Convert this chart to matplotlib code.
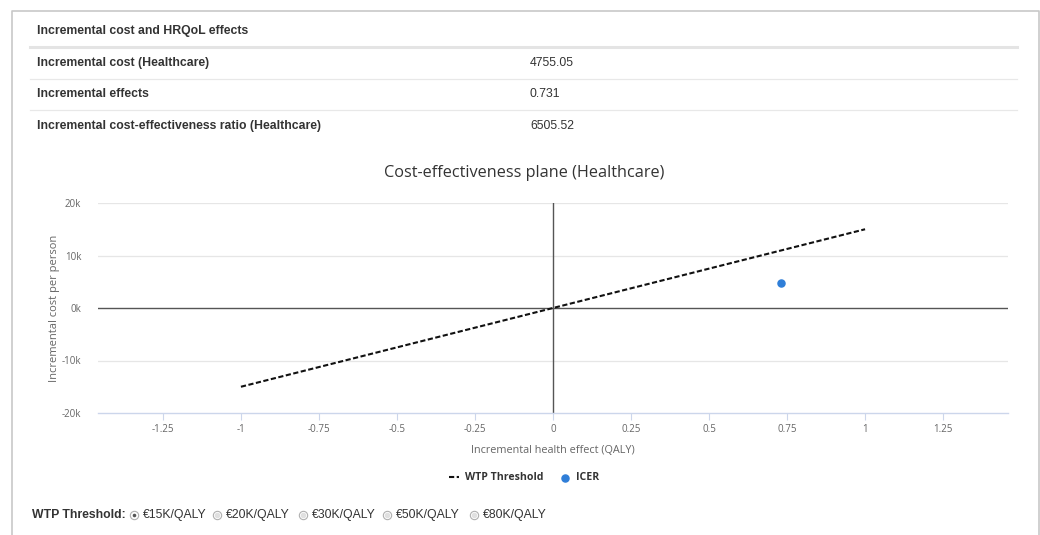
import matplotlib
matplotlib.use("Agg")
import matplotlib.pyplot as plt
from matplotlib.lines import Line2D

# data
table_title = "Incremental cost and HRQoL effects"
row_labels = ["Incremental cost (Healthcare)", "Incremental effects",
              "Incremental cost-effectiveness ratio (Healthcare)"]
row_values = ["4755.05", "0.731", "6505.52"]

wtp_x = [-1, 1]
wtp_y = [-15000, 15000]
icer_x = [0.731]
icer_y = [4755.05]

xticks = [-1.25, -1, -0.75, -0.5, -0.25, 0, 0.25, 0.5, 0.75, 1, 1.25]
xtick_labels = ["-1.25", "-1", "-0.75", "-0.5", "-0.25", "0",
                "0.25", "0.5", "0.75", "1", "1.25"]
yticks = [-20000, -10000, 0, 10000, 20000]
ytick_labels = ["-20k", "-10k", "0k", "10k", "20k"]

wtp_options = ["\u20ac15K/QALY", "\u20ac20K/QALY", "\u20ac30K/QALY", "\u20ac50K/QALY", "\u20ac80K/QALY"]

W, H = 1040, 535
fig = plt.figure(figsize=(W / 100, H / 100), dpi=100)


def fx(px):
    return px / W


def fy(py):
    return 1 - py / H


def hline(x0, x1, y, color, lw):
    fig.add_artist(Line2D([fx(x0), fx(x1)], [fy(y), fy(y)], color=color, lw=lw,
                          transform=fig.transFigure))


# outer border of the panel
fig.add_artist(Line2D([fx(12), fx(12), fx(1039), fx(1039)], [fy(535), fy(11), fy(11), fy(535)],
                      color="#c8c8c8", lw=1.2, transform=fig.transFigure))

# summary table
tfont = dict(family="Liberation Sans", fontsize=8.8, color="#333333")
fig.text(fx(37), fy(31), table_title, weight="bold", va="center", **tfont)
hline(30, 1017, 47, "#e4e4e4", 2.2)
row_y = [63, 94, 126]
for i, (lab, val) in enumerate(zip(row_labels, row_values)):
    fig.text(fx(37), fy(row_y[i]), lab, weight="bold", va="center", **tfont)
    fig.text(fx(530), fy(row_y[i]), val, va="center", **tfont)
    if i < 2:
        hline(30, 1017, row_y[i] + 16, "#e8e8e8", 0.9)

# chart
ax = fig.add_axes([fx(98), fy(413), fx(1008) - fx(98), fy(203) - fy(413)])
ax.set_xlim(-1.458, 1.458)
ax.set_ylim(-20000, 20000)

for y in yticks:
    if y not in (0, -20000):
        ax.axhline(y, color="#e6e6e6", lw=0.9, zorder=0)
ax.axhline(0, color="#555555", lw=1.0, zorder=1)
ax.axvline(0, color="#555555", lw=1.0, zorder=1)

ax.plot(wtp_x, wtp_y, color="#111111", lw=1.5, ls=(0, (2.5, 1.2)), zorder=3,
        label="WTP Threshold")
ax.scatter(icer_x, icer_y, s=26, color="#2f7ed8", zorder=4, label="ICER")

for s in ["top", "right", "left"]:
    ax.spines[s].set_visible(False)
ax.spines["bottom"].set_color("#ccd6eb")
ax.spines["bottom"].set_linewidth(1.0)

ax.set_xticks(xticks)
ax.set_xticklabels(xtick_labels)
ax.set_yticks(yticks)
ax.set_yticklabels(ytick_labels)
ax.tick_params(axis="x", length=5, color="#ccd6eb", labelsize=7, labelcolor="#666666", pad=3)
ax.tick_params(axis="y", length=0, labelsize=7, labelcolor="#666666", pad=12)
for lab in ax.get_xticklabels() + ax.get_yticklabels():
    lab.set_family("Open Sans")

ax.set_xlabel("Incremental health effect (QALY)", fontsize=7.8, color="#666666",
              family="Open Sans", labelpad=7)
ax.set_ylabel("Incremental cost per person", fontsize=8.0, color="#666666",
              family="Open Sans", labelpad=1)
fig.text(fx(524), fy(173), "Cost-effectiveness plane (Healthcare)", fontsize=11.7,
         color="#333333", family="Open Sans", ha="center", va="center")

leg = fig.legend(*ax.get_legend_handles_labels(), loc="center", bbox_to_anchor=(fx(524), fy(478)),
                 ncol=2, frameon=False, prop=dict(family="Open Sans", weight="bold", size=7.6),
                 handlelength=1.0, handletextpad=0.5, columnspacing=1.6,
                 borderpad=0, borderaxespad=0)
for t in leg.get_texts():
    t.set_color("#333333")

# radio buttons row
rfont = dict(family="Liberation Sans", fontsize=8.8, color="#333333", va="center")
fig.text(fx(32), fy(515), "WTP Threshold:", weight="bold", **rfont)
radio_x = [134, 217, 303, 387, 474]
for i, (rx, opt) in enumerate(zip(radio_x, wtp_options)):
    face = "#555555" if i == 0 else "#e0e0e0"
    fig.add_artist(Line2D([fx(rx)], [fy(515)], marker="o", ms=6, mfc="white",
                          mec="#b0b0b0", mew=0.8, transform=fig.transFigure))
    fig.add_artist(Line2D([fx(rx)], [fy(515)], marker="o", ms=2.6 if i == 0 else 4,
                          mfc=face, mec="none", transform=fig.transFigure))
    fig.text(fx(rx + 9), fy(515), opt, **rfont)

fig.savefig("out.png", dpi=100)
